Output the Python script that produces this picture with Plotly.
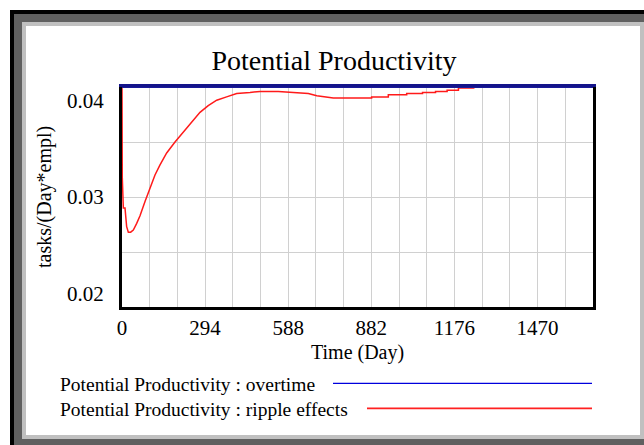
import plotly.graph_objects as go

# data
series_names = ["Potential Productivity : overtime", "Potential Productivity : ripple effects"]

time_overtime = [0, 1666]
prod_overtime = [0.0400, 0.0400]

time_ripple = [0, 1, 4.7, 10.6, 16.5, 22.4, 30.6, 40, 52, 63.7, 81.4, 99, 116.7, 134, 158,
               187.5, 216.8, 246.5, 275.9, 305, 335, 370, 405.7, 452.7, 488, 553, 606, 659,
               689, 747.5, 883, 883, 942, 942, 1007, 1007, 1063, 1063, 1109, 1109, 1150,
               1150, 1190, 1190, 1243, 1250, 1666]
prod_ripple = [0.0400, 0.0318, 0.0290, 0.0290, 0.0273, 0.0268, 0.0268, 0.0270, 0.0276, 0.0283,
               0.0296, 0.0309, 0.0320, 0.0329, 0.0340, 0.0350, 0.0359, 0.0369, 0.0377, 0.0383,
               0.0388, 0.0391, 0.0394, 0.0395, 0.0396, 0.0396, 0.0395, 0.0394, 0.0392, 0.0390,
               0.0390, 0.0391, 0.0391, 0.0393, 0.0393, 0.0394, 0.0394, 0.0395, 0.0395, 0.0396,
               0.0396, 0.0397, 0.0397, 0.0399, 0.0399, 0.0400, 0.0400]

x_ticks = [0, 294, 588, 882, 1176, 1470]
y_ticks = [0.02, 0.03, 0.04]
y_tick_text = ["0.02", "0.03", "0.04"]

FONT = "Liberation Serif"
W, H = 644, 445
L, R, T, B = 122, 51, 87, 138
PW, PH = W - L - R, H - T - B


def px(x):
    return (x - L) / PW


def py(y):
    return (H - B - y) / PH


fig = go.Figure()
fig.add_trace(go.Scatter(x=time_ripple, y=prod_ripple, mode="lines", name=series_names[1],
                         line=dict(color="#ff1a1a", width=1.5), showlegend=False))
# the overtime run lies on the top edge; its axis (x2) draws that edge in navy
fig.add_trace(go.Scatter(x=time_overtime, y=prod_overtime, mode="lines", name=series_names[0],
                         xaxis="x2", line=dict(color="#1a1a99", width=2), showlegend=False))

# window frame
shapes = []
for x0, y0, x1, y1, col in [(10, 10, 800, 800, "#000000"),
                            (14, 14, 800, 800, "#606060"),
                            (22, 22, 660, 439, "#c0c0c0"),
                            (26, 26, 640, 435, "#ffffff")]:
    shapes.append(dict(type="rect", xref="paper", yref="paper", x0=px(x0), x1=px(x1),
                       y0=py(y0), y1=py(y1), fillcolor=col, line_width=0, layer="below"))

# legend lines (text on the left, line on the right)
legend_rows = [(383.3, 333, "#0000dd", 1.3), (408.3, 367, "#ff2020", 1.7)]
annotations = []
for name, (ly, lx0, col, lw) in zip(series_names, legend_rows):
    shapes.append(dict(type="line", xref="paper", yref="paper", x0=px(lx0), x1=px(592),
                       y0=py(ly), y1=py(ly), line=dict(color=col, width=lw)))
    annotations.append(dict(text=name, xref="paper", yref="paper", x=px(58), y=py(ly + 1),
                            xanchor="left", yanchor="middle", showarrow=False,
                            font=dict(family=FONT, size=19.5, color="black")))

# y tick labels, end labels pulled inside like the original
for val, txt, shift in zip(y_ticks, y_tick_text, [13, 0, -14]):
    annotations.append(dict(text=txt, xref="paper", yref="y", x=0, y=val, xanchor="right",
                            yanchor="middle", xshift=-16, yshift=shift, showarrow=False,
                            font=dict(family=FONT, size=21, color="black")))

annotations.append(dict(text="tasks/(Day*empl)", xref="paper", yref="paper", x=0, y=0.5,
                        xanchor="center", yanchor="middle", xshift=-78, textangle=-90,
                        showarrow=False, font=dict(family=FONT, size=20, color="black")))
annotations.append(dict(text="Time (Day)", xref="paper", yref="paper", x=0.5, y=py(352),
                        yanchor="middle", showarrow=False,
                        font=dict(family=FONT, size=20, color="black")))

fig.update_layout(
    width=W, height=H,
    margin=dict(l=L, r=R, t=T, b=B),
    paper_bgcolor="white", plot_bgcolor="white",
    title=dict(text="Potential Productivity", x=334 / W, xanchor="center",
               y=1 - 60 / H, yanchor="middle", font=dict(family=FONT, size=28, color="black")),
    xaxis=dict(range=[0, 1666], tickvals=x_ticks, showgrid=True, gridcolor="#d0d0d0",
               gridwidth=1, minor=dict(dtick=98, tick0=0, showgrid=True, gridcolor="#d0d0d0"),
               showline=True, linecolor="black", linewidth=2.5, zeroline=False,
               ticks="", tickfont=dict(family=FONT, size=21, color="black"),
               layer="below traces"),
    xaxis2=dict(overlaying="x", side="top", range=[0, 1666], showline=True,
                linecolor="#14148a", linewidth=2.5, showgrid=False, showticklabels=False,
                ticks="", zeroline=False, layer="below traces"),
    yaxis=dict(range=[0.02, 0.04], tickvals=y_ticks, showticklabels=False, showgrid=True,
               gridcolor="#d0d0d0", gridwidth=1,
               minor=dict(dtick=0.005, tick0=0.02, showgrid=True, gridcolor="#d0d0d0"),
               showline=True, linecolor="black", linewidth=2.5, mirror=True, zeroline=False,
               ticks="", layer="below traces"),
    shapes=shapes,
    annotations=annotations,
)

# page has a default body margin; drop it so the chart sits at the window's corner
fig.write_html("out.html", config={"displayModeBar": False},
               post_script="document.body.style.margin='0px';")
